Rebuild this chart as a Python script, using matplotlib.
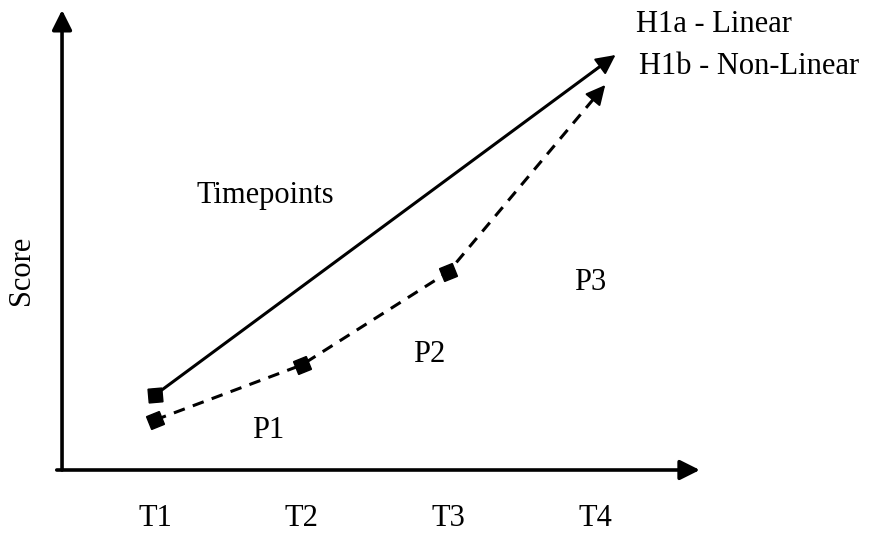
import numpy as np
import matplotlib.pyplot as plt

# ---------------------------------------------------------
# Data (timepoints on x, score on y)
# ---------------------------------------------------------
timepoints = [1, 2, 3, 4]
tick_labels = ["T1", "T2", "T3", "T4"]

# H1a - linear: start at T1, arrow ends just past T4
linear_x = [1.0, 4.14]
linear_y = [0.75, 4.15]

# H1b - non-linear: points at T1, T2, T3, arrow ends near T4
nonlinear_x = [1.0, 2.0, 3.0, 4.07]
nonlinear_y = [0.50, 1.05, 1.98, 3.85]

phase_labels = ["P1", "P2", "P3"]
phase_x = [1.77, 2.87, 3.97]
phase_y = [0.40, 1.15, 1.88]

plt.rcParams["font.family"] = ["Liberation Serif", "DejaVu Serif"]

fig = plt.figure(figsize=(8.71, 5.33), dpi=100)
ax = fig.add_axes([0, 0, 1, 1])
ax.set_xlim(-0.057, 5.882)
ax.set_ylim(-0.63, 4.70)
ax.axis("off")

head = "-|>,head_length=0.6,head_width=0.3"


def head_only(xs, ys, frac):
    # draw just the arrow head at the end of the last segment
    x0, y0, x1, y1 = xs[-2], ys[-2], xs[-1], ys[-1]
    ax.annotate("", xy=(x1, y1),
                xytext=(x1 - frac * (x1 - x0), y1 - frac * (y1 - y0)),
                arrowprops=dict(arrowstyle=head, color="black", lw=1.5,
                                mutation_scale=20, shrinkA=0, shrinkB=0))


# axes with arrows
ax.annotate("", xy=(0.366, 4.60), xytext=(0.366, 0.0),
            arrowprops=dict(arrowstyle=head, color="black", lw=2.6,
                            mutation_scale=20, shrinkA=0, shrinkB=0))
ax.annotate("", xy=(4.715, 0.0), xytext=(0.33, 0.0),
            arrowprops=dict(arrowstyle=head, color="black", lw=2.6,
                            mutation_scale=20, shrinkA=0, shrinkB=0))

# H1a line (stop a little short so the head stays clean)
lx = [linear_x[0], linear_x[0] + 0.97 * (linear_x[1] - linear_x[0])]
ly = [linear_y[0], linear_y[0] + 0.97 * (linear_y[1] - linear_y[0])]
ax.plot(lx, ly, color="black", lw=2.2)
head_only(linear_x, linear_y, 0.05)

# H1b line
nx = nonlinear_x[:-1] + [nonlinear_x[-2] + 0.94 * (nonlinear_x[-1] - nonlinear_x[-2])]
ny = nonlinear_y[:-1] + [nonlinear_y[-2] + 0.94 * (nonlinear_y[-1] - nonlinear_y[-2])]
ax.plot(nx, ny, color="black", lw=2.2, dashes=(3.8, 2.8))
head_only(nonlinear_x, nonlinear_y, 0.08)

# tilted square markers
ax.plot(linear_x[:1], linear_y[:1], ls="none", marker=(4, 0, 45 + 5),
        ms=14, color="black")
for i in range(3):
    ax.plot(nonlinear_x[i], nonlinear_y[i], ls="none", marker=(4, 0, 45 + 22),
            ms=14, color="black")

# text
fs = 22
ax.text(4.28, 4.46, "H1a - Linear", fontsize=fs, va="center", ha="left")
ax.text(4.30, 4.04, "H1b - Non-Linear", fontsize=fs, va="center", ha="left")
ax.text(1.75, 2.74, "Timepoints", fontsize=fs, va="center", ha="center")
ax.text(-0.057 + 22 / 146.67, 2.0, "Score", fontsize=fs, va="center",
        ha="center", rotation=90)
for lab, px, py in zip(phase_labels, phase_x, phase_y):
    ax.text(px, py, lab, fontsize=fs, va="center", ha="center")
for t, lab in zip(timepoints, tick_labels):
    ax.text(t, -0.49, lab, fontsize=fs, va="center", ha="center")

fig.savefig("out.png", dpi=100)
